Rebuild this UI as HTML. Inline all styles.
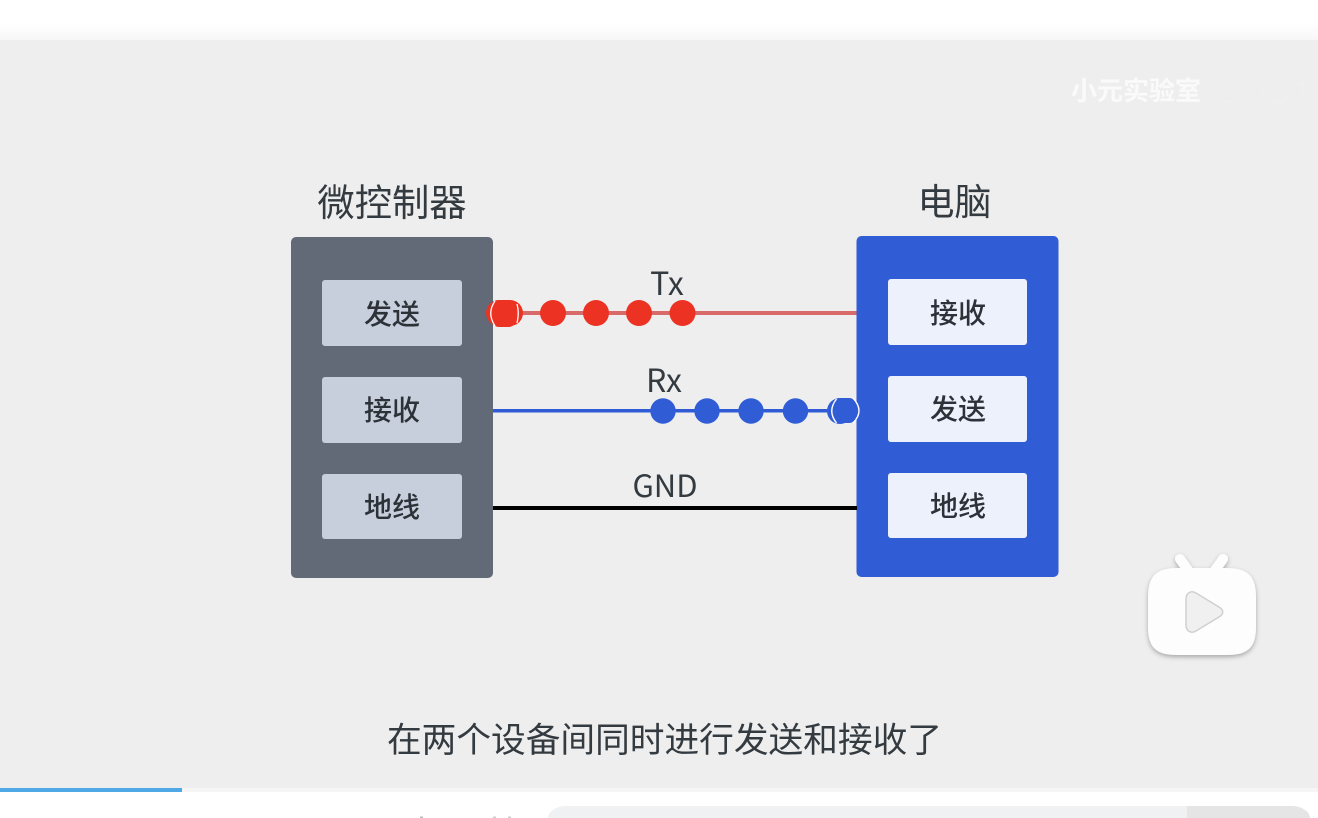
<!DOCTYPE html>
<html><head><meta charset="utf-8"><style>
html,body{margin:0;padding:0;background:#fff}
body{width:1318px;height:818px;overflow:hidden;position:relative;font-family:"Liberation Sans","Noto Sans CJK SC",sans-serif}
svg{position:absolute;left:0;top:0}
text{font-family:"Noto Sans CJK SC","Liberation Sans",sans-serif;fill:#333a40}
.l{font-weight:500;fill:#2c3238}
</style></head><body>
<svg width="1318" height="818" viewBox="0 0 1318 818">
<defs>
<linearGradient id="sh" x1="0" y1="0" x2="0" y2="1"><stop offset="0" stop-color="#fff"/><stop offset="1" stop-color="#f7f7f7"/></linearGradient>
<filter id="ds" x="-20%" y="-20%" width="140%" height="140%"><feDropShadow dx="0" dy="2" stdDeviation="2.500" flood-color="#000" flood-opacity=".3"/></filter>
</defs>
<rect x="0" y="24" width="1318" height="16" fill="url(#sh)"/>
<rect x="0" y="40" width="1318" height="748" fill="#eeeeee"/>
<rect x="0" y="788" width="1318" height="4" fill="#f5f5f5"/>
<rect x="0" y="788" width="182" height="4" fill="#4fa9e6"/>
<path d="M548 818C548 812 556 806 566 806H1187V818Z" fill="#f0f1f3"/>
<path d="M1187 806H1292C1302 806 1310 812 1310 818H1187Z" fill="#e5e5e5"/>
<rect x="420" y="816.500" width="3" height="1.500" fill="#bbb"/><rect x="493" y="816.500" width="3" height="1.500" fill="#ccc"/><rect x="508" y="816.500" width="3" height="1.500" fill="#ccc"/>

<text x="1071" y="100" font-size="26" font-weight="700" style="fill:#fafafa">小元实验室</text>
<g fill="none" stroke="#f0f0f0" stroke-width="1.200"><path d="M1220 78V100C1226 104 1232 102 1236 96M1240 84V98M1248 78V102M1262 84V100M1272 78V102C1280 104 1286 100 1290 94M1296 84H1308M1302 78V102"/></g>

<text x="392" y="216" font-size="37.300" text-anchor="middle">微控制器</text>
<text x="954.500" y="215" font-size="37" text-anchor="middle">电脑</text>

<rect x="291" y="237" width="202" height="341" rx="5" fill="#626a78"/>
<rect x="322" y="280" width="140" height="66" rx="3" fill="#c7cfdc"/>
<rect x="322" y="377" width="140" height="66" rx="3" fill="#c7cfdc"/>
<rect x="322" y="474" width="140" height="65" rx="3" fill="#c7cfdc"/>
<text class="l" x="392" y="324" font-size="28" text-anchor="middle">发送</text>
<text class="l" x="392" y="420" font-size="28" text-anchor="middle">接收</text>
<text class="l" x="392" y="517" font-size="28" text-anchor="middle">地线</text>

<rect x="856.500" y="236" width="202" height="341" rx="5" fill="#305cd6"/>
<rect x="888" y="279" width="139" height="66" rx="3" fill="#ecf1fc"/>
<rect x="888" y="376" width="139" height="66" rx="3" fill="#ecf1fc"/>
<rect x="888" y="473" width="139" height="65" rx="3" fill="#ecf1fc"/>
<text class="l" x="958" y="323" font-size="28" text-anchor="middle">接收</text>
<text class="l" x="958" y="419" font-size="28" text-anchor="middle">发送</text>
<text class="l" x="958" y="516" font-size="28" text-anchor="middle">地线</text>

<rect x="493" y="311" width="363.500" height="4" fill="#d96a6a"/>
<rect x="493" y="409" width="363.500" height="3.500" fill="#2f5cd6"/>
<rect x="493" y="506" width="364" height="4" fill="#000"/>

<text x="667" y="295" font-size="32" text-anchor="middle">Tx</text>
<text x="664" y="392" font-size="32" text-anchor="middle">Rx</text>
<text x="665" y="497" font-size="31" text-anchor="middle">GND</text>

<g fill="#eb3223">
<circle cx="682.500" cy="313" r="13"/><circle cx="639" cy="313" r="13"/><circle cx="596" cy="313" r="13"/><circle cx="553" cy="313" r="13"/>
<circle cx="510" cy="313" r="13"/><circle cx="499" cy="313" r="13"/>
</g>
<rect x="491" y="300" width="25.500" height="27" rx="8" ry="9" fill="#eb3223"/>
<path d="M495 301Q486.500 313 495 326M517 304Q519.500 313 517 323" fill="none" stroke="#fff" stroke-width="1.300"/>

<g fill="#305cd6">
<circle cx="663" cy="411" r="12.700"/><circle cx="707" cy="411" r="12.700"/><circle cx="751" cy="411" r="12.700"/><circle cx="795.500" cy="411" r="12.700"/>
<circle cx="840" cy="411" r="13"/>
</g>
<rect x="832.500" y="398" width="24.500" height="25" rx="8" ry="9" fill="#305cd6"/>
<path d="M836.500 399Q827 411 836.500 423M853 398Q865 411 853 423" fill="none" stroke="#fff" stroke-width="1.400"/>

<text x="664.500" y="752" font-size="34.700" text-anchor="middle">在两个设备间同时进行发送和接收了</text>

<g filter="url(#ds)">
<path d="M1180 559L1190 573M1223 559L1213 573" stroke="#fdfdfd" stroke-width="10" stroke-linecap="round" fill="none"/>
<path d="M1178 568H1226C1248 568 1256 576 1256 598V626C1256 648 1248 655 1226 655H1178C1156 655 1148 648 1148 626V598C1148 576 1156 568 1178 568Z" fill="#fdfdfd"/>
</g>
<path d="M1186 599C1186 593 1191 590 1196 593L1219 607C1224 610 1224 614 1219 617L1196 631C1191 634 1186 631 1186 625Z" fill="#f0f0f0" stroke="#d0d0d0" stroke-width="1.500"/>
</svg>
</body></html>
